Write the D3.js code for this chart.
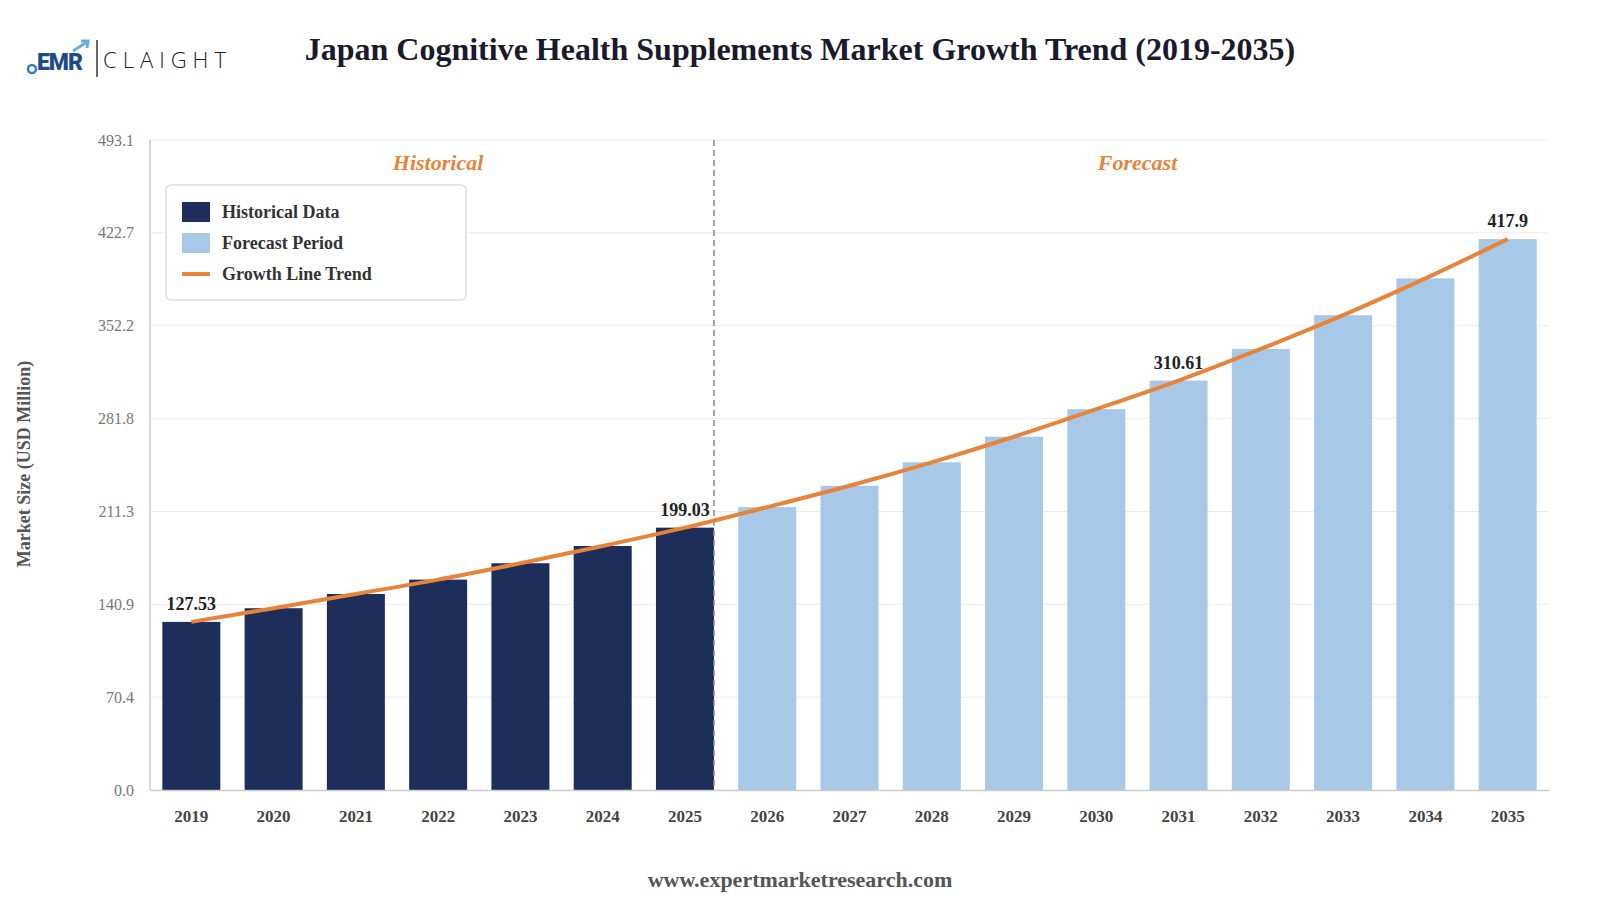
<!DOCTYPE html>
<html>
<head>
<meta charset="utf-8">
<script src="https://cdn.jsdelivr.net/npm/d3@7"></script>
<style>
  body { margin: 0; background: #fff; }
  svg { display: block; font-family: 'Liberation Serif', 'Times New Roman', serif; }
</style>
</head>
<body>
<div id="app"></div>
<script>
'use strict'
const years = ['2019', '2020', '2021', '2022', '2023', '2024', '2025', '2026', '2027',
  '2028', '2029', '2030', '2031', '2032', '2033', '2034', '2035']
const values = [127.53, 137.9, 148.7, 159.6, 172.0, 185.1, 199.03, 214.6, 230.8,
  248.6, 268.0, 288.9, 310.61, 334.6, 360.2, 388.1, 417.9]
const historicalCount = 7
const labelledYears = ['2019', '2025', '2031', '2035']
const yTicks = [0, 70.4, 140.9, 211.3, 281.8, 352.2, 422.7, 493.1]
const legendItems = ['Historical Data', 'Forecast Period', 'Growth Line Trend']

const W = 1600, H = 900
const margin = { top: 140, right: 51, bottom: 110, left: 150 }
const width = W - margin.left - margin.right
const height = H - margin.top - margin.bottom

const navy = '#1c2e59'
const light = '#a8c8e8'
const orange = '#e8833a'

const svg = d3.select('#app').append('svg')
  .attr('width', W)
  .attr('height', H)

// Title
svg.append('text')
  .attr('x', 800).attr('y', 60)
  .attr('text-anchor', 'middle')
  .style('font-size', '32px').style('font-weight', 'bold').style('fill', '#1a1a2e')
  .text('Japan Cognitive Health Supplements Market Growth Trend (2019-2035)')

// Logo
const logo = svg.append('g').attr('transform', 'translate(25,39)')
logo.append('circle').attr('cx', 7).attr('cy', 30).attr('r', 4)
  .style('fill', 'none').style('stroke', '#2f7fc4').style('stroke-width', 2.5)
logo.append('text').attr('x', 12).attr('y', 31)
  .style('font-family', 'Roboto, sans-serif').style('font-weight', '900')
  .style('font-size', '23px').style('fill', '#1e4a8a').style('letter-spacing', '-1px')
  .text('EMR')
logo.append('path').attr('d', 'M48,12 L62,3 M56,2 L63,2 L62,9')
  .style('fill', 'none').style('stroke', '#6aaee0').style('stroke-width', 3)
logo.append('line').attr('x1', 72).attr('x2', 72).attr('y1', 1).attr('y2', 38)
  .style('stroke', '#333').style('stroke-width', 1.5)
logo.append('text').attr('x', 78).attr('y', 29)
  .style('font-family', '"Open Sans", sans-serif').style('font-weight', '300')
  .style('font-size', '22px').style('fill', '#222').style('letter-spacing', '6px')
  .text('CLAIGHT')

const g = svg.append('g').attr('transform', `translate(${margin.left},${margin.top})`)

const x = d3.scaleBand().domain(years).range([0, width]).paddingInner(0.295).paddingOuter(0.15)
const y = d3.scaleLinear().domain([0, 493.1]).range([height, 0])

// Grid
g.append('g').selectAll('line').data(yTicks.slice(1)).enter().append('line')
  .attr('x1', 0).attr('x2', width)
  .attr('y1', d => y(d)).attr('y2', d => y(d))
  .style('stroke', '#ececec').style('stroke-width', 1)

// Y axis
const yAxis = g.append('g')
  .call(d3.axisLeft(y).tickValues(yTicks).tickFormat(d3.format('.1f')).tickSize(0).tickPadding(16))
yAxis.select('.domain').remove()
yAxis.selectAll('text').style('font-family', "'Liberation Serif', serif")
  .style('font-size', '16px').style('fill', '#777')

g.append('line').attr('x1', 0).attr('x2', 0).attr('y1', 0).attr('y2', height)
  .style('stroke', '#ccc').style('stroke-width', 1.5)

// Bars
g.selectAll('.bar').data(values).enter().append('rect')
  .attr('class', 'bar')
  .attr('x', (d, i) => x(years[i]))
  .attr('width', x.bandwidth())
  .attr('y', d => y(d))
  .attr('height', d => height - y(d))
  .style('fill', (d, i) => i < historicalCount ? navy : light)

// Baseline / X axis
const xAxis = g.append('g').attr('transform', `translate(0,${height})`)
  .call(d3.axisBottom(x).tickSize(0).tickPadding(20))
xAxis.select('.domain').style('stroke', '#ccc').style('stroke-width', 1.5)
xAxis.selectAll('text').style('font-family', "'Liberation Serif', serif")
  .style('font-size', '17px').style('font-weight', 'bold').style('fill', '#444')

// Divider between historical and forecast
const splitX = x(years[historicalCount - 1]) + x.bandwidth()
g.append('line').attr('x1', splitX).attr('x2', splitX).attr('y1', 0).attr('y2', height)
  .style('stroke', '#888').style('stroke-width', 1.5).style('stroke-dasharray', '6,4')

const step = x.step()
const histMid = (x(years[0]) - x.paddingOuter() * step + x(years[historicalCount - 1]) + x.bandwidth() + step * x.paddingInner() / 2) / 2
const foreMid = (x(years[historicalCount]) - step * x.paddingInner() / 2 + width) / 2
g.append('text').attr('x', histMid).attr('y', 30).attr('text-anchor', 'middle')
  .style('font-size', '22px').style('font-weight', 'bold').style('font-style', 'italic')
  .style('fill', orange).text('Historical')
g.append('text').attr('x', foreMid).attr('y', 30).attr('text-anchor', 'middle')
  .style('font-size', '22px').style('font-weight', 'bold').style('font-style', 'italic')
  .style('fill', orange).text('Forecast')

// Growth line
const line = d3.line()
  .x((d, i) => x(years[i]) + x.bandwidth() / 2)
  .y(d => y(d))
  .curve(d3.curveMonotoneX)
g.append('path').datum(values)
  .attr('d', line)
  .style('fill', 'none').style('stroke', orange).style('stroke-width', 4)

// Data labels
g.selectAll('.lbl').data(values.map((v, i) => ({ v, yr: years[i] })).filter(d => labelledYears.includes(d.yr)))
  .enter().append('text')
  .attr('x', d => x(d.yr) + x.bandwidth() / 2)
  .attr('y', d => y(d.v) - 12)
  .attr('text-anchor', 'middle')
  .style('font-size', '18px').style('font-weight', 'bold').style('fill', '#222')
  .text(d => d.v)

// Legend
const legend = svg.append('g').attr('transform', 'translate(166,185)')
legend.append('rect').attr('width', 300).attr('height', 115).attr('rx', 5)
  .style('fill', '#fff').style('stroke', '#ddd').style('stroke-width', 1.5)
legendItems.forEach((name, i) => {
  const ly = 27 + i * 31
  if (i < 2) {
    legend.append('rect').attr('x', 16).attr('y', ly - 10).attr('width', 28).attr('height', 20)
      .style('fill', i === 0 ? navy : light)
  } else {
    legend.append('line').attr('x1', 16).attr('x2', 44).attr('y1', ly).attr('y2', ly)
      .style('stroke', orange).style('stroke-width', 4)
  }
  legend.append('text').attr('x', 56).attr('y', ly + 6)
    .style('font-size', '18px').style('font-weight', 'bold').style('fill', '#333')
    .text(name)
})

// Y axis title
svg.append('text')
  .attr('transform', 'translate(30,464) rotate(-90)')
  .attr('text-anchor', 'middle')
  .style('font-size', '18px').style('font-weight', 'bold').style('fill', '#555')
  .text('Market Size (USD Million)')

// Footer
svg.append('text').attr('x', 800).attr('y', 887).attr('text-anchor', 'middle')
  .style('font-size', '22px').style('font-weight', 'bold').style('fill', '#555')
  .text('www.expertmarketresearch.com')
</script>
</body>
</html>
